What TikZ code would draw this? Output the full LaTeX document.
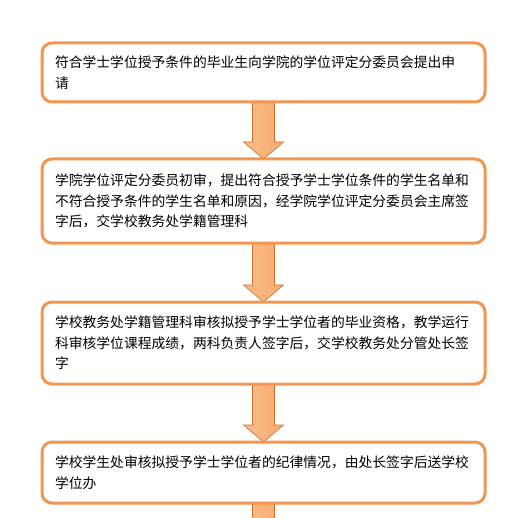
\documentclass[tikz,border=0pt]{standalone}
\usepackage{fontspec}
\setmainfont{Noto Sans CJK SC}
\usetikzlibrary{positioning,backgrounds,calc}
\definecolor{boxline}{RGB}{242,150,82}
\definecolor{arrowlight}{RGB}{250,188,138}
\definecolor{arrowmid}{RGB}{242,145,68}
\definecolor{arrowedge}{RGB}{205,110,45}
\tikzset{
  stepbox/.style={draw=boxline, line width=3pt, fill=white, rounded corners=10pt,
    outer sep=0pt, inner xsep=13pt, inner ysep=0pt, text width=417pt, align=left,
    font=\fontsize{13.8pt}{20.5pt}\selectfont},
  arrowbody/.style={left color=arrowlight, middle color=arrowmid, right color=arrowlight!60!arrowmid,
    draw=arrowedge, line width=0.6pt, line join=miter}
}
\newcommand{\flowarrow}[2]{%
  \path[arrowbody] let \p1=(#1), \p2=(#2) in
    ({\x1-11pt},\y1) -- ({\x1-11pt},{\y2+17pt}) -- ({\x1-20pt},{\y2+17pt}) -- (\x1,\y2)
    -- ({\x1+20pt},{\y2+17pt}) -- ({\x1+11pt},{\y2+17pt}) -- ({\x1+11pt},\y1) -- cycle;}
\begin{document}
\begin{tikzpicture}[x=1pt, y=1pt]
	\useasboundingbox (0,0) rectangle (515,-518);
	\node[stepbox, minimum height=59pt, anchor=north west] (apply) at (42,-43)
	  {符合学士学位授予条件的毕业生向学院的学位评定分委员会提出申\\请};
	\node[stepbox, minimum height=84pt, below=57pt of apply] (college)
	  {学院学位评定分委员初审，提出符合授予学士学位条件的学生名单和\\不符合授予条件的学生名单和原因，经学院学位评定分委员会主席签\\字后，交学校教务处学籍管理科};
	\node[stepbox, minimum height=82pt, below=59pt of college] (academic)
	  {学校教务处学籍管理科审核拟授予学士学位者的毕业资格，教学运行\\科审核学位课程成绩，两科负责人签字后，交学校教务处分管处长签\\字};
	\node[stepbox, minimum height=61pt, below=58pt of academic] (student)
	  {学校学生处审核拟授予学士学位者的纪律情况，由处长签字后送学校\\学位办};
	\coordinate (next) at ($(student.south)+(0,-45)$);
	\begin{scope}[on background layer]
	  \flowarrow{apply.south}{college.north}
	  \flowarrow{college.south}{academic.north}
	  \flowarrow{academic.south}{student.north}
	  \flowarrow{student.south}{next}
	\end{scope}
\end{tikzpicture}
\end{document}
